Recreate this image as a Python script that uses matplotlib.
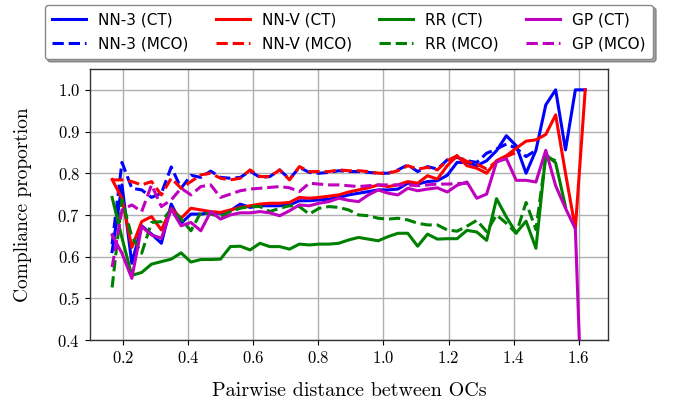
import numpy as np
import matplotlib
matplotlib.use("Agg")
import matplotlib.pyplot as plt

nan = np.nan

# pairwise distance bins
dist = np.linspace(0.166, 1.62, 49)

nn3_ct = [0.612, 0.772, 0.584, 0.674, 0.654, 0.632, 0.726, 0.68, 0.702, 0.702,
          0.705, 0.704, 0.71, 0.726, 0.718, 0.722, 0.722, 0.722, 0.724, 0.734,
          0.734, 0.736, 0.738, 0.742, 0.748, 0.752, 0.756, 0.76, 0.76, 0.762,
          0.776, 0.774, 0.78, 0.782, 0.795, 0.826, 0.826, 0.818, 0.83, 0.854,
          0.89, 0.866, 0.80, 0.855, 0.964, 1.0, 0.856, 1.0, 1.0]
nn3_mco = [0.63, 0.826, 0.764, 0.76, 0.742, 0.752, 0.815, 0.764, 0.795, 0.79,
           0.805, 0.79, 0.788, 0.79, 0.805, 0.79, 0.792, 0.808, 0.786, 0.814,
           0.802, 0.80, 0.802, 0.806, 0.804, 0.804, 0.802, 0.80, 0.80, 0.808,
           0.82, 0.804, 0.816, 0.81, 0.832, 0.838, 0.83, 0.826, 0.848, 0.858,
           0.87, 0.86, 0.84, 0.855, nan, nan, nan, nan, nan]
nnv_ct = [0.785, 0.74, 0.622, 0.684, 0.696, 0.664, 0.716, 0.692, 0.716, 0.712,
          0.708, 0.706, 0.712, 0.718, 0.722, 0.726, 0.728, 0.728, 0.73, 0.742,
          0.74, 0.742, 0.745, 0.748, 0.755, 0.76, 0.765, 0.772, 0.768, 0.772,
          0.78, 0.776, 0.794, 0.786, 0.818, 0.842, 0.818, 0.812, 0.80, 0.83,
          0.842, 0.86, 0.877, 0.88, 0.893, 0.94, 0.80, 0.667, 1.0]
nnv_mco = [0.784, 0.784, 0.78, 0.772, 0.78, 0.748, 0.788, 0.764, 0.78, 0.796,
           0.80, 0.788, 0.784, 0.788, 0.808, 0.792, 0.792, 0.808, 0.784, 0.816,
           0.804, 0.804, 0.804, 0.808, 0.806, 0.806, 0.804, 0.80, 0.80, 0.806,
           0.818, 0.81, 0.814, 0.808, 0.83, 0.842, 0.828, 0.822, 0.81, 0.828,
           0.84, 0.85, nan, nan, nan, nan, nan, nan, nan]
rr_ct = [0.742, 0.645, 0.555, 0.562, 0.582, 0.588, 0.594, 0.609, 0.587, 0.593,
         0.593, 0.594, 0.624, 0.625, 0.616, 0.632, 0.624, 0.624, 0.618, 0.63,
         0.628, 0.63, 0.63, 0.632, 0.64, 0.646, 0.642, 0.638, 0.648, 0.656,
         0.656, 0.625, 0.654, 0.642, 0.643, 0.643, 0.663, 0.659, 0.639, 0.739,
         0.695, 0.657, 0.685, 0.62, 0.845, 0.825, 0.72, nan, nan]
rr_mco = [0.526, 0.737, 0.648, 0.608, 0.682, 0.684, 0.714, 0.69, 0.662, 0.706,
          0.702, 0.696, 0.708, 0.716, 0.72, 0.72, 0.708, 0.716, 0.722, 0.72,
          0.702, 0.716, 0.72, 0.718, 0.712, 0.70, 0.698, 0.692, 0.69, 0.692,
          0.688, 0.68, 0.676, 0.676, 0.664, 0.661, 0.673, 0.687, 0.66, 0.70,
          0.68, 0.656, 0.73, 0.665, 0.84, 0.83, nan, nan, nan]
gp_ct = [0.652, 0.608, 0.548, 0.672, 0.652, 0.644, 0.714, 0.674, 0.682, 0.662,
         0.708, 0.69, 0.70, 0.705, 0.705, 0.708, 0.705, 0.698, 0.71, 0.724,
         0.722, 0.728, 0.732, 0.74, 0.735, 0.732, 0.748, 0.76, 0.752, 0.748,
         0.764, 0.758, 0.762, 0.765, 0.755, 0.771, 0.779, 0.74, 0.75, 0.827,
         0.835, 0.783, 0.783, 0.779, 0.855, 0.77, 0.716, 0.667, 0.0]
gp_mco = [0.575, 0.712, 0.724, 0.708, 0.772, 0.72, 0.736, 0.764, 0.748, 0.768,
          0.772, 0.742, 0.75, 0.758, 0.762, 0.764, 0.766, 0.768, 0.765, 0.756,
          0.776, 0.774, 0.772, 0.772, 0.77, 0.768, 0.77, 0.772, 0.772, 0.772,
          0.772, 0.77, 0.772, 0.774, 0.774, 0.775, 0.776, nan, nan, nan,
          nan, nan, nan, nan, nan, nan, nan, nan, nan]

series = [
    ("NN-3 (CT)", nn3_ct, "b", "-"),
    ("NN-3 (MCO)", nn3_mco, "b", "--"),
    ("NN-V (CT)", nnv_ct, "r", "-"),
    ("NN-V (MCO)", nnv_mco, "r", "--"),
    ("RR (CT)", rr_ct, "g", "-"),
    ("RR (MCO)", rr_mco, "g", "--"),
    ("GP (CT)", gp_ct, "m", "-"),
    ("GP (MCO)", gp_mco, "m", "--"),
]

plt.rcParams['axes.formatter.use_mathtext'] = True

fig = plt.figure(figsize=(6.73, 4.03), dpi=100)
ax = fig.add_axes([0.1337, 0.1563, 0.7697, 0.6725])

for label, vals, col, ls in series:
    ax.plot(dist, vals, color=col, linestyle=ls, linewidth=2.2, label=label)

ax.set_xlim(0.098, 1.69)
ax.set_ylim(0.4, 1.05)
ax.set_xticks(np.arange(0.2, 1.61, 0.2))
ax.set_yticks(np.arange(0.4, 1.01, 0.1))
ax.grid(True, color="#b0b0b0", linewidth=1.0)
ax.set_axisbelow(True)

for lab in ax.get_xticklabels() + ax.get_yticklabels():
    lab.set_fontfamily("cmr10")
    lab.set_fontsize(12)
ax.set_xlabel("Pairwise distance between OCs", fontfamily="cmr10", fontsize=14.5, labelpad=12)
ax.set_ylabel("Compliance proportion", fontfamily="cmr10", fontsize=14, labelpad=18)
for s in ax.spines.values():
    s.set_linewidth(1.0)
    s.set_color("#333333")

ax.legend(ncol=4, loc="lower center", bbox_to_anchor=(0.5, 1.025), shadow=True,
          fancybox=True, fontsize=11, framealpha=1, edgecolor="#888888",
          borderaxespad=0.2, handlelength=2.2, columnspacing=1.8,
          labelspacing=0.6, borderpad=0.5)

fig.savefig("out.png", dpi=100)
